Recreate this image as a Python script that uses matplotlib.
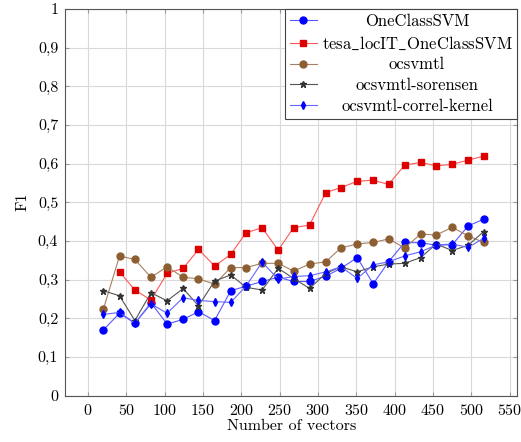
import numpy as np
import matplotlib
matplotlib.use("Agg")
import matplotlib.pyplot as plt
from matplotlib.transforms import Bbox

plt.rcParams['font.family'] = ['cmr10', 'DejaVu Serif']
plt.rcParams['mathtext.fontset'] = 'cm'
plt.rcParams['axes.formatter.use_mathtext'] = True

# number of vectors
vectors = [20, 41, 61, 82, 103, 124, 144, 165, 186, 206, 227, 248, 268,
           289, 310, 330, 351, 372, 392, 413, 434, 454, 475, 496, 516]

oneclass = [0.170, 0.213, 0.187, 0.240, 0.185, 0.197, 0.217, 0.194, 0.271, 0.283,
            0.295, 0.306, 0.295, 0.295, 0.309, 0.329, 0.357, 0.289, 0.346, 0.396,
            0.395, 0.389, 0.390, 0.439, 0.456]
tesa = [None, 0.320, 0.273, 0.247, 0.316, 0.329, 0.378, 0.335, 0.365, 0.421,
        0.434, 0.376, 0.434, 0.441, 0.525, 0.538, 0.554, 0.557, 0.546, 0.596,
        0.603, 0.594, 0.598, 0.609, 0.619]
ocsvmtl = [0.224, 0.361, 0.352, 0.306, 0.333, 0.306, 0.302, 0.288, 0.331, 0.331,
           0.342, 0.342, 0.322, 0.340, 0.346, 0.382, 0.392, 0.396, 0.405, 0.382,
           0.418, 0.415, 0.435, 0.413, 0.396]
sorensen = [0.271, 0.258, 0.194, 0.266, 0.245, 0.277, 0.232, 0.296, 0.312, 0.280,
            0.273, 0.329, 0.303, 0.277, 0.316, 0.333, 0.320, 0.333, 0.340, 0.342,
            0.357, 0.392, 0.375, 0.389, 0.424]
correl = [0.210, 0.215, 0.187, 0.237, 0.213, 0.253, 0.246, 0.243, 0.241, 0.283,
          0.345, 0.301, 0.308, 0.310, 0.320, 0.333, 0.303, 0.338, 0.346, 0.361,
          0.372, 0.389, 0.392, 0.383, 0.407]

x_ticks = list(range(0, 551, 50))
y_ticks = [0, 0.1, 0.2, 0.3, 0.4, 0.5, 0.6, 0.7, 0.8, 0.9, 1]
y_labels = ['0', '0,1', '0,2', '0,3', '0,4', '0,5', '0,6', '0,7', '0,8', '0,9', '1']

fig = plt.figure(figsize=(5.21, 4.42), dpi=100)
ax = fig.add_axes([0.125, 0.105, 0.868, 0.875])

def series(y):
    return np.array([np.nan if v is None else v for v in y], dtype=float)

ax.plot(vectors, series(oneclass), color=(0.35, 0.35, 1.0), lw=0.8, marker='o', ms=5,
        mec='blue', mfc='blue', label='OneClassSVM')
ax.plot(vectors, series(tesa), color=(1.0, 0.35, 0.35), lw=0.8, marker='s', ms=5,
        mec='#dd0000', mfc='#dd0000', label=r'tesa$\_$locIT$\_$OneClassSVM')
ax.plot(vectors, series(ocsvmtl), color=(0.65, 0.5, 0.38), lw=0.8, marker='o', ms=5,
        mec='#8d5e32', mfc='#8d5e32', label='ocsvmtl')
ax.plot(vectors, series(sorensen), color='#555555', lw=0.8, marker='*', ms=4.5,
        mec='#333333', mfc='#333333', label='ocsvmtl-sorensen')
ax.plot(vectors, series(correl), color=(0.4, 0.4, 1.0), lw=0.8, marker='d', ms=4.2,
        mec='blue', mfc='blue', label='ocsvmtl-correl-kernel')

ax.set_xlim(-30, 560)
ax.set_ylim(0, 1)
ax.set_xticks(x_ticks)
ax.set_yticks(y_ticks)
ax.set_yticklabels(y_labels)
ax.grid(True, color='#d9d9d9', lw=0.8)
ax.set_axisbelow(True)
ax.tick_params(direction='in', length=3, color='#999999', labelsize=11.5,
               top=True, right=True, pad=5)
for s in ax.spines.values():
    s.set_color('#555555')
    s.set_linewidth(0.8)

ax.set_xlabel('Number of vectors', fontsize=11.5, labelpad=1)
ax.set_ylabel('F1', fontsize=11.5, labelpad=6)

leg = ax.legend(loc='upper right', fontsize=12, frameon=True, fancybox=False,
                framealpha=1, edgecolor='#444444', borderpad=0.3,
                labelspacing=0.32, handlelength=1.6, handletextpad=0.3,
                borderaxespad=0.0)
leg.get_frame().set_linewidth(0.8)

# centre the legend texts in a common column width, as pgfplots does
rows = leg._legend_handle_box.get_children()[0].get_children()
areas = [r.get_children()[1] for r in rows]
origs = [a.get_bbox for a in areas]

def widened(orig):
    def get_bbox(renderer):
        bb = orig(renderer)
        maxw = max(o(renderer).width for o in origs)
        return Bbox.from_bounds(-maxw / 2, bb.y0, maxw, bb.height)
    return get_bbox

for a in areas:
    a._text.set_horizontalalignment('center')
for a, o in zip(areas, origs):
    a.get_bbox = widened(o)

fig.savefig('out.png', dpi=100)
